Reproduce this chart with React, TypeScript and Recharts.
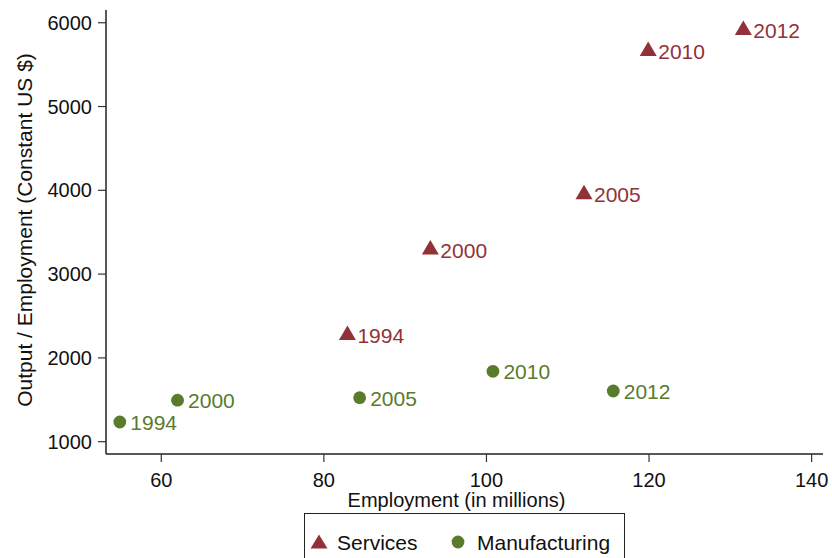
import React from 'react';
import { ScatterChart, Scatter, XAxis, YAxis, Legend } from 'recharts';

// Employment (millions) vs output per worker, by sector and year
const years = ['1994', '2000', '2005', '2010', '2012'];
const servicesEmployment = [82.9, 93.1, 112.0, 119.9, 131.6];
const servicesOutput = [2300, 3320, 3980, 5690, 5940];
const manufacturingEmployment = [54.9, 62.0, 84.4, 100.8, 115.6];
const manufacturingOutput = [1235, 1495, 1525, 1840, 1605];

const xTicks = [60, 80, 100, 120, 140];
const yTicks = [1000, 2000, 3000, 4000, 5000, 6000];
const xDomain = [53.2, 141.4];
const yDomain = [853, 6152];

const SERVICES = '#913239';
const MANUFACTURING = '#587b2c';
const FONT = '"Liberation Sans", Arial, Helvetica, sans-serif';

const servicesData = years.map((year, i) => ({
  year,
  x: servicesEmployment[i],
  y: servicesOutput[i],
}));

const manufacturingData = years.map((year, i) => ({
  year,
  x: manufacturingEmployment[i],
  y: manufacturingOutput[i],
}));

const TriangleMark = (props: any) => {
  const { cx, cy, payload } = props;
  return (
    <g>
      <polygon
        points={`${cx},${cy - 7.3} ${cx - 8.5},${cy + 7.2} ${cx + 8.5},${cy + 7.2}`}
        fill={SERVICES}
      />
      <text x={cx + 10} y={cy + 10.5} fill={SERVICES} fontSize={21} fontFamily={FONT}>
        {payload.year}
      </text>
    </g>
  );
};

const CircleMark = (props: any) => {
  const { cx, cy, payload } = props;
  return (
    <g>
      <circle cx={cx} cy={cy} r={6.4} fill={MANUFACTURING} />
      <text x={cx + 10.5} y={cy + 8} fill={MANUFACTURING} fontSize={21} fontFamily={FONT}>
        {payload.year}
      </text>
    </g>
  );
};

const XTitle = (props: any) => {
  const { x, y, width } = props.viewBox;
  return (
    <text x={x + width / 2 - 8} y={y + 53} textAnchor="middle" fontSize={20} fontFamily={FONT} fill="#111">
      Employment (in millions)
    </text>
  );
};

const YTitle = (props: any) => {
  const { y, height } = props.viewBox;
  const cx = 32;
  const cy = y + height / 2 - 2;
  return (
    <text
      x={cx}
      y={cy}
      transform={`rotate(-90 ${cx} ${cy})`}
      textAnchor="middle"
      fontSize={21}
      fontFamily={FONT}
      fill="#111"
    >
      Output / Employment (Constant US $)
    </text>
  );
};

const LegendBox = () => (
  <div
    style={{
      width: 321,
      height: 48,
      border: '1px solid #222',
      boxSizing: 'border-box',
      background: '#fff',
    }}
  >
    <svg width={319} height={46} style={{ display: 'block' }}>
      <polygon points="14,20.5 5.5,34.5 22.5,34.5" fill={SERVICES} />
      <text x={32} y={36} fontSize={21} fontFamily={FONT} fill="#111">
        Services
      </text>
      <circle cx={153} cy={28} r={6.4} fill={MANUFACTURING} />
      <text x={172} y={36} fontSize={21} fontFamily={FONT} fill="#111">
        Manufacturing
      </text>
    </svg>
  </div>
);

const tickStyle = { fill: '#111', fontSize: 20, fontFamily: FONT };

export default function App() {
  return (
    <div style={{ position: 'absolute', left: 0, top: 0, background: '#fff' }}>
      <ScatterChart width={832} height={558} margin={{ top: 10, right: 9, left: 0, bottom: 0 }}>
        <XAxis
          dataKey="x"
          type="number"
          domain={xDomain}
          ticks={xTicks}
          allowDataOverflow
          height={56}
          tickSize={8}
          tickMargin={11}
          tick={tickStyle}
          axisLine={{ stroke: '#222', strokeWidth: 1.5 }}
          tickLine={{ stroke: '#333', strokeWidth: 1.2 }}
          label={<XTitle />}
        />
        <XAxis
          xAxisId="top"
          orientation="top"
          type="number"
          domain={xDomain}
          allowDataOverflow
          height={0}
          tick={false}
          tickLine={false}
          axisLine={{ stroke: '#8a8a8a', strokeWidth: 2 }}
        />
        <YAxis
          dataKey="y"
          type="number"
          domain={yDomain}
          ticks={yTicks}
          allowDataOverflow
          width={106}
          tickSize={8}
          tickMargin={6}
          tick={tickStyle}
          axisLine={{ stroke: '#222', strokeWidth: 1.5 }}
          tickLine={{ stroke: '#333', strokeWidth: 1.2 }}
          label={<YTitle />}
        />
        <YAxis
          yAxisId="right"
          orientation="right"
          type="number"
          domain={yDomain}
          allowDataOverflow
          width={0}
          tick={false}
          tickLine={false}
          axisLine={{ stroke: '#444', strokeWidth: 1.5 }}
        />
        <Legend
          verticalAlign="bottom"
          content={<LegendBox />}
          wrapperStyle={{ left: 304, top: 513, width: 321 }}
        />
        <Scatter name="Services" data={servicesData} shape={TriangleMark} isAnimationActive={false} />
        <Scatter name="Manufacturing" data={manufacturingData} shape={CircleMark} isAnimationActive={false} />
      </ScatterChart>
    </div>
  );
}
